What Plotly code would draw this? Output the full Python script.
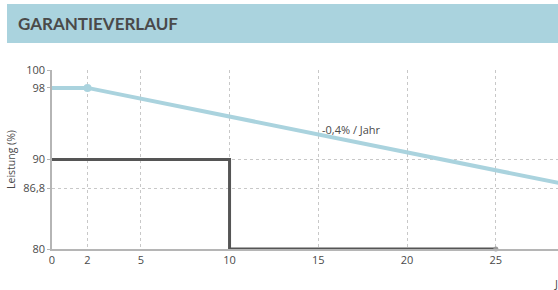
import plotly.graph_objects as go

# Data
jahre_garantie = [0, 2, 30]
leistung_garantie = [98, 98, 86.8]
jahre_produkt = [0, 10, 10, 25]
leistung_produkt = [90, 90, 80, 80]
x_ticks = [0, 2, 5, 10, 15, 20, 25]
y_ticks = [80, 86.8, 90, 98, 100]
y_ticktext = ["80", "86,8", "90", "98", "100"]
y_grid = [86.8, 90, 100]
title_text = "GARANTIEVERLAUF"
rate_label = "-0,4% / Jahr"
rate_label_pos = (15.1, 93.3)

BLUE = "#aad3de"
DARK = "#555555"
GRID = "#c8c8c8"
AXIS = "#b5b5b5"
TXT = "#4a4a4a"
FONT = "Open Sans"

fig = go.Figure()

fig.add_trace(go.Scatter(
    x=jahre_produkt, y=leistung_produkt, mode="lines",
    line=dict(color=DARK, width=3), hoverinfo="skip", showlegend=False,
    cliponaxis=False))
fig.add_trace(go.Scatter(
    x=[jahre_produkt[-1]], y=[leistung_produkt[-1]], mode="markers",
    marker=dict(color="#9a9a9a", size=5), showlegend=False, cliponaxis=False))
fig.add_trace(go.Scatter(
    x=jahre_garantie, y=leistung_garantie, mode="lines",
    line=dict(color=BLUE, width=4), showlegend=False))
fig.add_trace(go.Scatter(
    x=[jahre_garantie[1]], y=[leistung_garantie[1]], mode="markers",
    marker=dict(color=BLUE, size=8), showlegend=False))
# invisible trace on secondary y axis for horizontal grid
fig.add_trace(go.Scatter(x=[0], y=[y_grid[0]], yaxis="y2", mode="markers",
                         marker=dict(opacity=0), showlegend=False, hoverinfo="skip"))

fig.update_layout(
    width=558, height=290,
    margin=dict(l=52, r=0, t=70, b=41, autoexpand=False),
    paper_bgcolor="white", plot_bgcolor="white",
    font=dict(family=FONT, color=TXT, size=11),
    xaxis=dict(range=[0, 28.5], tickvals=x_ticks, showgrid=True,
               gridcolor=GRID, griddash="3px,3px", gridwidth=1,
               showline=True, linecolor=AXIS, linewidth=1.5,
               zeroline=False, ticks="", tickfont=dict(size=11, color=TXT)),
    yaxis=dict(range=[80, 100], tickvals=y_ticks, ticktext=y_ticktext,
               showgrid=False, showline=True, linecolor=AXIS, linewidth=1.5,
               zeroline=False, ticks="outside", ticklen=3, tickcolor=AXIS,
               tickfont=dict(size=11, color=TXT),
               title=dict(text="Leistung (%)", font=dict(size=10.5, color=TXT),
                          standoff=6)),
    yaxis2=dict(range=[80, 100], overlaying="y", tickvals=y_grid,
                showticklabels=False, showgrid=True, gridcolor=GRID,
                griddash="3px,3px", gridwidth=1, zeroline=False, showline=False),
    shapes=[dict(type="rect", xref="paper", yref="paper",
                 x0=-45/506, x1=1.0, y0=(249-43)/179, y1=(249-4)/179,
                 fillcolor=BLUE, line=dict(width=0), layer="below")],
    annotations=[
        dict(text="<b>" + title_text + "</b>", xref="paper", yref="paper",
             x=-36/506, y=(249-23.5)/179, xanchor="left", yanchor="middle",
             showarrow=False, font=dict(size=17, color=TXT, family="Lato")),
        dict(text=rate_label, x=rate_label_pos[0], y=rate_label_pos[1],
             xanchor="left", yanchor="middle", showarrow=False,
             font=dict(size=11, color=TXT)),
        dict(text="Jahre", xref="paper", yref="paper", x=(552-52)/506,
             y=(249-283)/179, xanchor="left", yanchor="middle",
             showarrow=False, font=dict(size=11, color=TXT)),
    ],
)

fig.write_html("out.html",
               config={"displayModeBar": False},
               post_script="document.body.style.margin='0';document.body.style.overflow='hidden';")
